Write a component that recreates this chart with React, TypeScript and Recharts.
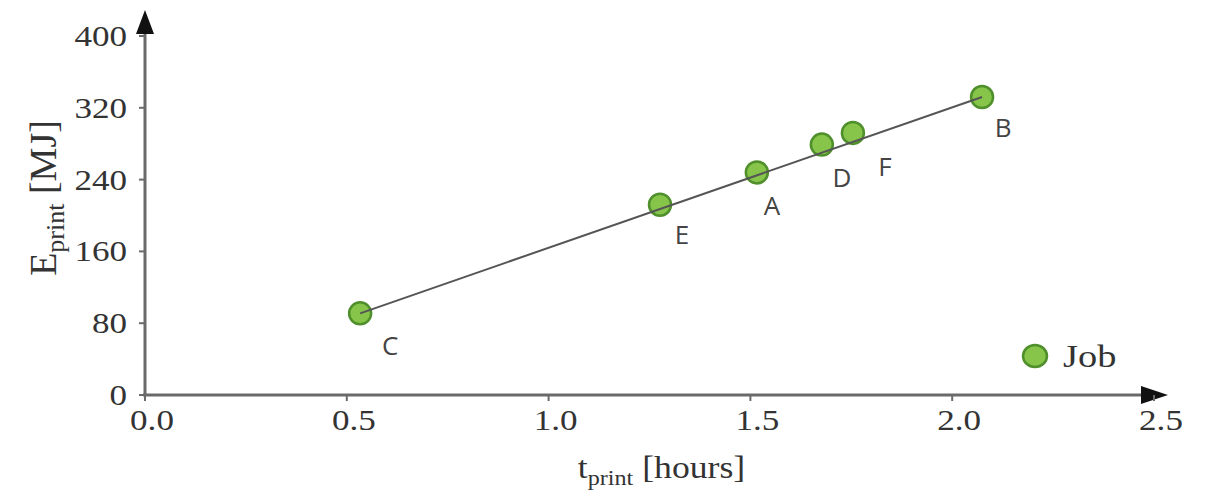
import React from 'react'
import {
  ScatterChart,
  Scatter,
  XAxis,
  YAxis,
  ReferenceLine,
  Legend,
} from 'recharts'

// print jobs
const jobNames = ['C', 'E', 'A', 'D', 'F', 'B']
const printHours = [0.533, 1.276, 1.516, 1.677, 1.754, 2.074]
const printEnergy = [91, 212, 248, 279, 292, 332]

// straight trend line, drawn from the first job to the last
const trendHours = [0.533, 2.074]
const trendEnergy = [91, 332]

const xTicks = [0, 0.5, 1.0, 1.5, 2.0, 2.5]
const yTicks = [0, 80, 160, 240, 320, 400]

const jobs = jobNames.map((name, i) => ({ name, x: printHours[i], y: printEnergy[i] }))
const trend = trendHours.map((x, i) => ({ x, y: trendEnergy[i] }))

const SERIF = '"Liberation Serif", "Times New Roman", serif'
const SANS = '"Open Sans", "Noto Sans", sans-serif'
const AXIS_GREY = '#6a6a6a'
const TEXT = '#333'
const DOT_FILL = '#86c44a'
const DOT_STROKE = '#4f8f2c'

// where each letter sits relative to its dot
const LABEL_NUDGE: Record<string, [number, number]> = {
  C: [30, 32],
  E: [22, 30],
  A: [15, 33],
  D: [20, 33],
  F: [32, 34],
  B: [21, 31],
}

const JobDot = (props: any) => {
  const { cx, cy, payload } = props
  const [dx, dy] = LABEL_NUDGE[payload.name] ?? [22, 32]
  return (
    <g>
      <circle cx={cx} cy={cy} r={11} fill={DOT_FILL} stroke={DOT_STROKE} strokeWidth={2.5} />
      <text
        x={cx + dx}
        y={cy + dy}
        dy="0.36em"
        textAnchor="middle"
        fontFamily={SANS}
        fontSize={26}
        fill="#444"
      >
        {payload.name}
      </text>
    </g>
  )
}

const XTick = ({ x, y, payload }: any) => (
  <text
    transform={`translate(${x + 7},${y + 27}) scale(1.17,1)`}
    textAnchor="middle"
    fontFamily={SERIF}
    fontSize={30}
    fill={TEXT}
  >
    {Number(payload.value).toFixed(1)}
  </text>
)

const YTick = ({ x, y, payload }: any) => (
  <text
    transform={`translate(${x - 10},${y + 10}) scale(1.17,1)`}
    textAnchor="end"
    fontFamily={SERIF}
    fontSize={30}
    fill={TEXT}
  >
    {payload.value}
  </text>
)

const XTitle = ({ viewBox }: any) => {
  const cx = viewBox.x + viewBox.width / 2 + 12
  return (
    <text
      transform={`translate(${cx},478) scale(1.15,1)`}
      textAnchor="middle"
      fontFamily={SERIF}
      fontSize={31}
      fill={TEXT}
    >
      t
      <tspan fontSize={21} dy={7}>print</tspan>
      <tspan dy={-7}> [hours]</tspan>
    </text>
  )
}

const YTitle = () => (
  <text
    transform="translate(56,198) rotate(-90)"
    textAnchor="middle"
    fontFamily={SERIF}
    fontSize={38}
    fill={TEXT}
  >
    E
    <tspan fontSize={26} dy={8}>print</tspan>
    <tspan dy={-8}> [MJ]</tspan>
  </text>
)

const XAxisArrow = ({ x1, y1, x2 }: any) => (
  <g>
    <line x1={x1 - 2} y1={y1} x2={x2 - 10} y2={y1} stroke={AXIS_GREY} strokeWidth={3} />
    <polygon points={`${x2 - 13},${y1 - 9} ${x2 + 14},${y1} ${x2 - 13},${y1 + 9}`} fill="#111" />
  </g>
)

const YAxisArrow = ({ x1, y1, y2 }: any) => (
  <g>
    <line x1={x1} y1={y1 + 1} x2={x1} y2={y2 - 3} stroke={AXIS_GREY} strokeWidth={3} />
    <polygon points={`${x1 - 9},${y2 - 2} ${x1},${y2 - 26} ${x1 + 9},${y2 - 2}`} fill="#111" />
  </g>
)

const JobLegend = () => (
  <div style={{ display: 'flex', alignItems: 'center', fontFamily: SERIF, fontSize: 32, color: TEXT, lineHeight: '28px' }}>
    <svg width={28} height={26}>
      <ellipse cx={14} cy={13} rx={12} ry={11} fill={DOT_FILL} stroke={DOT_STROKE} strokeWidth={2.5} />
    </svg>
    <span style={{ marginLeft: 14, display: 'inline-block', transform: 'scale(1.2,1)', transformOrigin: 'left center' }}>Job</span>
  </div>
)

export default function App() {
  return (
    <div style={{ position: 'absolute', left: 0, top: 0, background: '#fff' }}>
      <ScatterChart width={1208} height={495} margin={{ top: 36, right: 54, bottom: 0, left: 0 }}>
        <XAxis
          type="number"
          dataKey="x"
          domain={[0, 2.5]}
          ticks={xTicks}
          interval={0}
          height={100}
          axisLine={false}
          tickLine={{ stroke: AXIS_GREY, strokeWidth: 2 }}
          tickSize={6}
          tick={<XTick />}
          label={<XTitle />}
        />
        <YAxis
          type="number"
          dataKey="y"
          domain={[0, 400]}
          ticks={yTicks}
          interval={0}
          width={145}
          axisLine={false}
          tickLine={{ stroke: AXIS_GREY, strokeWidth: 2 }}
          tickSize={6}
          tick={<YTick />}
          label={<YTitle />}
        />
        <ReferenceLine segment={[{ x: 0, y: 0 }, { x: 2.5, y: 0 }]} shape={XAxisArrow} />
        <ReferenceLine segment={[{ x: 0, y: 0 }, { x: 0, y: 400 }]} shape={YAxisArrow} />
        <Legend
          layout="horizontal"
          verticalAlign="middle"
          align="center"
          wrapperStyle={{ left: 1021, top: 342, width: 'auto' }}
          content={<JobLegend />}
        />
        <Scatter name="Job" data={jobs} shape={JobDot} isAnimationActive={false} />
        <Scatter
          name="trend"
          data={trend}
          line={{ stroke: '#555', strokeWidth: 2 }}
          shape={() => <g />}
          legendType="none"
          isAnimationActive={false}
        />
      </ScatterChart>
    </div>
  )
}
